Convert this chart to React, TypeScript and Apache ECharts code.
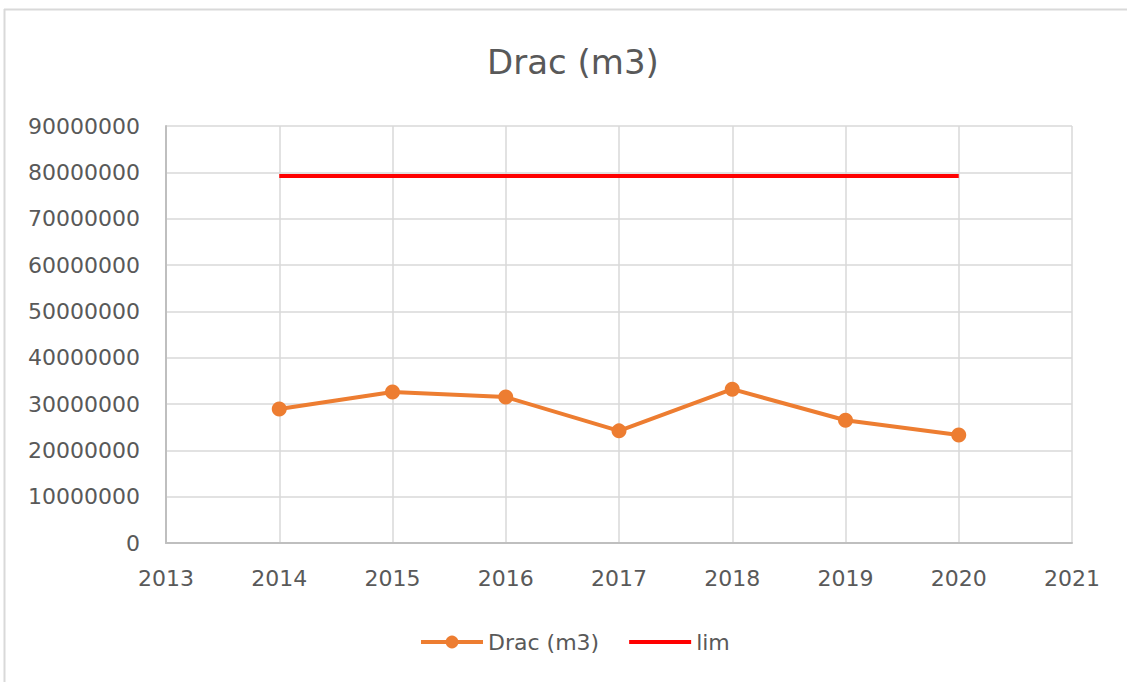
import React, { useEffect, useRef } from "react";
import * as echarts from "echarts";

const years = [2014, 2015, 2016, 2017, 2018, 2019, 2020];
const dracValues = [28900000, 32600000, 31500000, 24200000, 33200000, 26500000, 23300000];
const limValues = [79200000, 79200000, 79200000, 79200000, 79200000, 79200000, 79200000];
const seriesNames = ["Drac (m3)", "lim"];
const titleText = "Drac (m3)";

const FONT = "DejaVu Sans";
const TEXT = "#595959";

export default function App() {
  const ref = useRef<HTMLDivElement>(null);
  useEffect(() => {
    if (!ref.current) return;
    const chart = echarts.init(ref.current, undefined, { renderer: "svg" });
    chart.setOption({
      animation: false,
      backgroundColor: "#ffffff",
      title: {
        text: titleText,
        left: 568,
        top: 40,
        textAlign: "center",
        textStyle: { fontFamily: FONT, fontSize: 34, fontWeight: "normal", color: TEXT },
      },
      graphic: [
        { type: "line", shape: { x1: 4, y1: 9.5, x2: 1127, y2: 9.5 }, style: { stroke: "#d9d9d9", lineWidth: 2 } },
        { type: "line", shape: { x1: 4.5, y1: 9, x2: 4.5, y2: 682 }, style: { stroke: "#d9d9d9", lineWidth: 2 } },
      ],
      legend: {
        left: 414,
        top: 626,
        itemWidth: 62,
        itemHeight: 16,
        itemGap: 30,
        textStyle: { fontFamily: FONT, fontSize: 22, color: TEXT },
        data: [
          { name: seriesNames[0], lineStyle: { width: 4 } },
          { name: seriesNames[1], icon: "path://M0 0H62V4H0Z" },
        ],
      },
      grid: { left: 166, right: 55, top: 126, bottom: 139, containLabel: false },
      xAxis: {
        type: "value",
        min: 2013,
        max: 2021,
        interval: 1,
        axisLine: { show: true, lineStyle: { color: "#bfbfbf", width: 2 } },
        axisTick: { show: false },
        axisLabel: { fontFamily: FONT, fontSize: 22, color: TEXT, margin: 24, formatter: (v: number) => String(v) },
        splitLine: { show: true, lineStyle: { color: "#d9d9d9", width: 1.5 } },
      },
      yAxis: {
        type: "value",
        min: 0,
        max: 90000000,
        interval: 10000000,
        axisLine: { show: true, lineStyle: { color: "#bfbfbf", width: 2 } },
        axisTick: { show: false },
        axisLabel: { fontFamily: FONT, fontSize: 22, color: TEXT, margin: 26, formatter: (v: number) => String(v) },
        splitLine: { show: true, lineStyle: { color: "#d9d9d9", width: 1.5 } },
      },
      series: [
        {
          name: seriesNames[0],
          type: "line",
          data: years.map((y, i) => [y, dracValues[i]]),
          symbol: "circle",
          symbolSize: 15,
          itemStyle: { color: "#ED7D31" },
          lineStyle: { color: "#ED7D31", width: 4 },
          z: 3,
        },
        {
          name: seriesNames[1],
          type: "line",
          data: years.map((y, i) => [y, limValues[i]]),
          symbol: "none",
          itemStyle: { color: "#FF0000" },
          lineStyle: { color: "#FF0000", width: 4 },
          z: 2,
        },
      ],
    });
    return () => chart.dispose();
  }, []);
  return <div ref={ref} style={{ width: 1127, height: 682, position: "absolute", left: 0, top: 0 }} />;
}
